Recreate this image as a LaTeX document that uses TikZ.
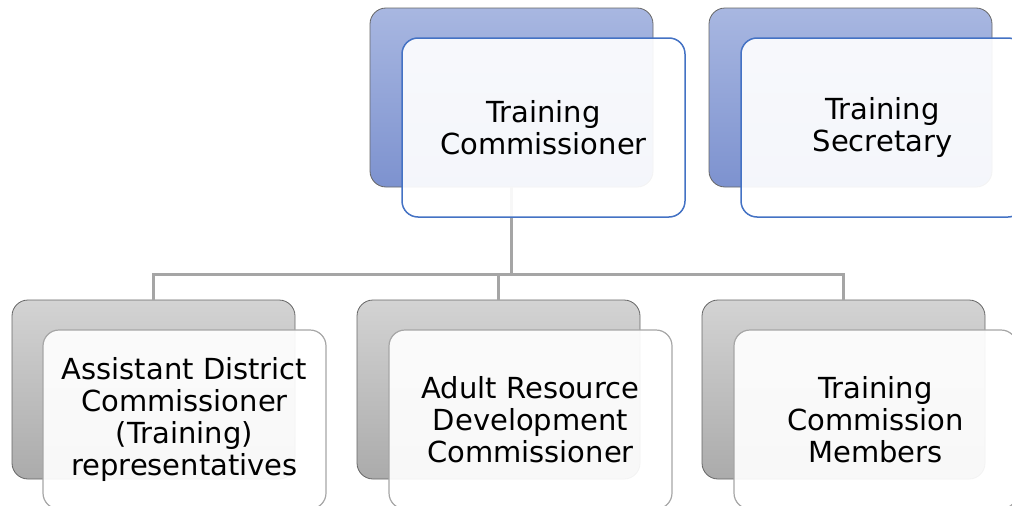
\documentclass[tikz,border=0pt]{standalone}
\usepackage{fontspec}
\setmainfont{DejaVu Sans}
\usetikzlibrary{positioning}
\definecolor{blueTop}{HTML}{A8B7E1}
\definecolor{blueBot}{HTML}{7D92CF}
\definecolor{greyTop}{HTML}{D3D3D3}
\definecolor{greyBot}{HTML}{ABABAB}
\definecolor{edgeBlue}{HTML}{4472C4}
\definecolor{edgeGrey}{HTML}{A6A6A6}
\definecolor{linkGrey}{HTML}{A5A5A5}
\begin{document}
\begin{tikzpicture}[
            x=1pt, y=-1pt,
            box/.style={minimum width=283pt, minimum height=179pt,
              inner sep=0pt, rounded corners=16pt},
            backblue/.style={box, draw=black!60, line width=0.8pt,
              top color=blueTop, bottom color=blueBot},
            backgrey/.style={box, draw=black!60, line width=0.8pt,
              top color=greyTop, bottom color=greyBot},
            frontblue/.style={box, draw=edgeBlue, line width=1.5pt,
              fill=white, fill opacity=0.92, text opacity=1,
              align=center, font=\fontsize{29}{32}\selectfont},
            frontgrey/.style={frontblue, draw=edgeGrey, line width=1.2pt},
            link/.style={draw=linkGrey, line width=3pt},
          ]
          \useasboundingbox (0,0) rectangle (1012,506);
          \clip (0,0) rectangle (1012,506);
          % back cards
          \node[backblue] (tcback) at (511.5,97.5) {};
          \node[backblue] (tsback) at (850.5,97.5) {};
          \node[backgrey] (adcback) at (153.5,389.5) {};
          \node[backgrey] (ardback) at (498.5,389.5) {};
          \node[backgrey] (tcmback) at (843.5,389.5) {};
          % links
          \coordinate (bus) at (511.5,274);
          \draw[link] (tcback.south) -- (bus);
          \draw[link] (bus) -| (adcback.north);
          \draw[link] (bus) -| (ardback.north);
          \draw[link] (bus) -| (tcmback.north);
          % front cards
          \node[frontblue] (tc) at (543.5,127.5) {Training\\Commissioner};
          \node[frontblue] (ts) at (882.5,127.5) {Training\\Secretary};
          \node[frontgrey] (adc) at (184.5,419.5)
            {Assistant District\\Commissioner\\(Training)\\representatives};
          \node[frontgrey] (ard) at (530.5,419.5)
            {Adult Resource\\Development\\Commissioner};
          \node[frontgrey] (tcm) at (875.5,419.5)
            {Training\\Commission\\Members};
          \end{tikzpicture}
\end{document}
